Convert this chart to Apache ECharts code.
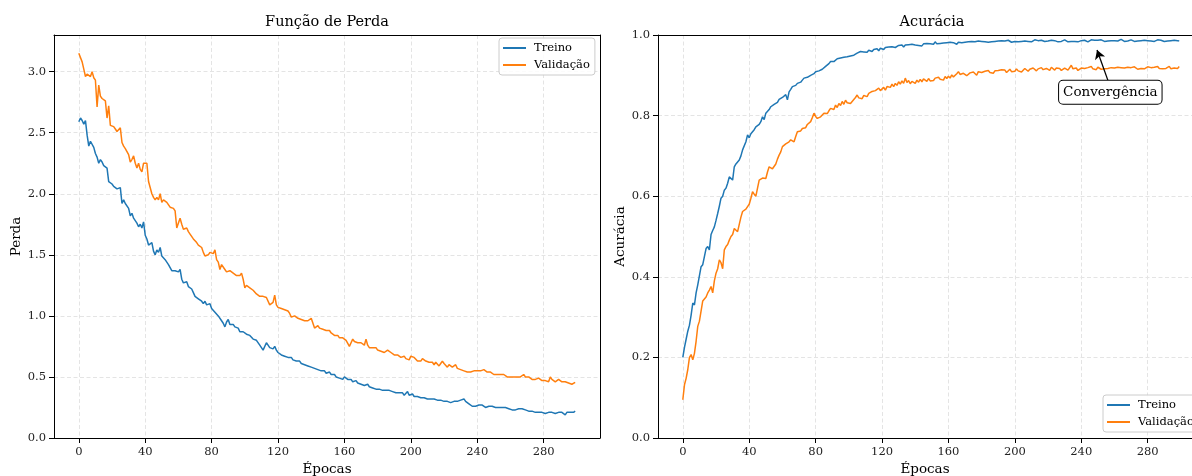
<!DOCTYPE html>
<html><head><meta charset="utf-8">
<script src="https://cdn.jsdelivr.net/npm/echarts@6/dist/echarts.min.js"></script>
<style>html,body{margin:0;padding:0;background:#fff}#c{width:1192px;height:476px}</style>
</head><body><div id="c"></div>
<script>
const lossTrain = [
2.59,2.62,2.60,2.57,2.60,2.48,2.39,2.43,2.42,2.38,
2.33,2.30,2.25,2.28,2.26,2.23,2.22,2.21,2.10,2.09,
2.08,2.06,2.07,2.04,2.03,2.05,1.92,1.95,1.92,1.93,
1.88,1.82,1.84,1.80,1.79,1.76,1.73,1.75,1.72,1.77,
1.66,1.63,1.58,1.57,1.60,1.53,1.50,1.54,1.52,1.56,
1.49,1.48,1.46,1.45,1.42,1.41,1.37,1.38,1.37,1.38,
1.36,1.38,1.30,1.27,1.26,1.28,1.24,1.25,1.22,1.19,
1.16,1.17,1.14,1.15,1.12,1.10,1.12,1.09,1.08,1.10,
1.06,1.05,1.03,1.04,1.00,0.99,0.96,0.94,0.91,0.95,
0.97,0.93,0.92,0.93,0.91,0.92,0.90,0.87,0.88,0.87,
0.86,0.85,0.86,0.84,0.83,0.81,0.82,0.80,0.79,0.76,
0.74,0.72,0.73,0.78,0.76,0.74,0.75,0.73,0.75,0.72,
0.70,0.69,0.68,0.69,0.67,0.67,0.66,0.65,0.66,0.64,
0.64,0.63,0.62,0.63,0.61,0.60,0.60,0.61,0.59,0.60,
0.58,0.59,0.57,0.57,0.56,0.56,0.55,0.54,0.55,0.53,
0.53,0.54,0.52,0.51,0.52,0.50,0.49,0.49,0.50,0.48,
0.50,0.49,0.48,0.47,0.48,0.46,0.46,0.47,0.45,0.45,
0.44,0.45,0.43,0.43,0.44,0.42,0.42,0.41,0.42,0.40,
0.41,0.40,0.40,0.39,0.40,0.39,0.38,0.39,0.39,0.38,
0.38,0.37,0.38,0.37,0.36,0.37,0.35,0.36,0.38,0.35,
0.35,0.36,0.34,0.35,0.34,0.34,0.33,0.34,0.33,0.33,
0.32,0.33,0.32,0.31,0.32,0.31,0.31,0.30,0.31,0.30,
0.30,0.31,0.30,0.30,0.29,0.30,0.30,0.31,0.30,0.30,
0.31,0.30,0.32,0.30,0.29,0.28,0.27,0.26,0.27,0.26,
0.27,0.27,0.26,0.27,0.26,0.25,0.26,0.26,0.25,0.26,
0.25,0.25,0.24,0.25,0.24,0.25,0.24,0.25,0.24,0.24,
0.23,0.23,0.24,0.23,0.23,0.24,0.23,0.24,0.24,0.23,
0.23,0.22,0.23,0.22,0.22,0.21,0.22,0.21,0.22,0.21,
0.21,0.20,0.21,0.21,0.20,0.21,0.21,0.20,0.21,0.21,
0.20,0.21,0.20,0.19,0.21,0.20,0.21,0.21,0.21,0.22];

const lossVal = [
3.15,3.14,3.08,3.02,2.96,2.98,2.99,2.96,3.00,2.95,
2.93,2.71,2.89,2.80,2.78,2.77,2.76,2.62,2.72,2.56,
2.55,2.55,2.53,2.51,2.50,2.54,2.42,2.39,2.37,2.36,
2.32,2.26,2.28,2.31,2.25,2.21,2.25,2.20,2.18,2.25,
2.25,2.25,2.10,2.09,2.00,1.97,1.95,1.97,1.95,2.00,
1.93,1.95,1.96,1.93,1.92,1.89,1.89,1.88,1.86,1.72,
1.76,1.80,1.75,1.71,1.70,1.72,1.69,1.67,1.66,1.63,
1.62,1.60,1.58,1.59,1.56,1.52,1.49,1.48,1.50,1.52,
1.53,1.51,1.54,1.46,1.44,1.38,1.42,1.41,1.38,1.36,
1.35,1.37,1.38,1.35,1.34,1.33,1.32,1.33,1.35,1.30,
1.23,1.25,1.24,1.23,1.24,1.21,1.20,1.18,1.18,1.16,
1.17,1.16,1.15,1.15,1.14,1.09,1.10,1.11,1.17,1.09,
1.07,1.08,1.06,1.07,1.05,1.05,1.04,1.02,0.99,0.98,
1.00,0.99,0.98,0.98,0.97,0.97,0.96,0.97,0.96,0.95,
0.98,0.99,0.90,0.91,0.92,0.90,0.91,0.89,0.89,0.88,
0.87,0.88,0.86,0.85,0.84,0.83,0.84,0.82,0.83,0.82,
0.81,0.80,0.79,0.75,0.78,0.81,0.79,0.78,0.78,0.77,
0.78,0.77,0.76,0.81,0.76,0.74,0.75,0.74,0.73,0.74,
0.72,0.71,0.71,0.72,0.70,0.71,0.72,0.72,0.70,0.69,
0.68,0.67,0.68,0.67,0.66,0.67,0.67,0.65,0.66,0.64,
0.67,0.66,0.66,0.65,0.63,0.64,0.63,0.65,0.64,0.63,
0.62,0.62,0.61,0.62,0.60,0.62,0.61,0.59,0.61,0.63,
0.61,0.60,0.58,0.60,0.59,0.58,0.59,0.60,0.57,0.56,
0.56,0.57,0.55,0.56,0.54,0.55,0.54,0.55,0.55,0.54,
0.55,0.54,0.55,0.54,0.56,0.55,0.54,0.53,0.54,0.53,
0.52,0.53,0.52,0.51,0.52,0.51,0.52,0.51,0.50,0.51,
0.50,0.51,0.50,0.49,0.50,0.51,0.50,0.49,0.52,0.50,
0.49,0.50,0.49,0.48,0.49,0.48,0.48,0.49,0.48,0.47,
0.48,0.47,0.47,0.46,0.50,0.48,0.47,0.46,0.47,0.48,
0.47,0.46,0.47,0.46,0.46,0.45,0.45,0.44,0.45,0.455];

const accTrain = [
0.200,0.225,0.245,0.265,0.280,0.305,0.335,0.330,0.360,0.380,
0.380,0.425,0.430,0.450,0.470,0.475,0.467,0.505,0.515,0.524,
0.540,0.557,0.575,0.595,0.600,0.615,0.620,0.632,0.648,0.650,
0.640,0.673,0.680,0.685,0.690,0.700,0.715,0.719,0.735,0.752,
0.745,0.755,0.756,0.765,0.772,0.770,0.778,0.785,0.797,0.790,
0.806,0.810,0.815,0.822,0.825,0.828,0.830,0.833,0.840,0.843,
0.845,0.848,0.852,0.839,0.859,0.865,0.872,0.868,0.875,0.880,
0.878,0.883,0.888,0.893,0.890,0.895,0.897,0.900,0.898,0.904,
0.909,0.906,0.911,0.913,0.915,0.918,0.922,0.925,0.929,0.934,
0.938,0.934,0.937,0.941,0.940,0.943,0.942,0.945,0.941,0.946,
0.944,0.948,0.946,0.950,0.952,0.955,0.951,0.959,0.956,0.958,
0.960,0.957,0.962,0.963,0.959,0.964,0.962,0.966,0.961,0.967,
0.967,0.964,0.969,0.966,0.970,0.968,0.971,0.973,0.969,0.972,
0.974,0.971,0.975,0.970,0.975,0.973,0.976,0.972,0.977,0.974,
0.975,0.978,0.974,0.977,0.973,0.978,0.976,0.979,0.975,0.978,
0.980,0.977,0.983,0.978,0.981,0.979,0.977,0.980,0.977,0.981,
0.979,0.982,0.978,0.981,0.980,0.977,0.982,0.979,0.981,0.978,
0.982,0.980,0.983,0.979,0.984,0.981,0.983,0.980,0.985,0.982,
0.984,0.981,0.983,0.985,0.982,0.984,0.983,0.980,0.984,0.982,
0.985,0.983,0.986,0.982,0.985,0.983,0.987,0.984,0.982,0.985,
0.984,0.987,0.983,0.986,0.984,0.982,0.985,0.987,0.984,0.986,
0.983,0.985,0.988,0.984,0.986,0.983,0.987,0.985,0.984,0.986,
0.985,0.983,0.987,0.984,0.986,0.985,0.983,0.986,0.984,0.985,
0.988,0.985,0.983,0.986,0.984,0.987,0.984,0.986,0.983,0.985,
0.986,0.984,0.987,0.985,0.983,0.986,0.988,0.990,0.987,0.985,
0.987,0.985,0.988,0.986,0.984,0.987,0.985,0.988,0.986,0.984,
0.986,0.988,0.985,0.987,0.989,0.986,0.984,0.987,0.985,0.986,
0.988,0.986,0.984,0.987,0.985,0.983,0.986,0.984,0.987,0.985,
0.986,0.988,0.985,0.987,0.984,0.986,0.988,0.985,0.987,0.986,
0.984,0.987,0.985,0.988,0.986,0.984,0.987,0.985,0.986,0.985];

const accVal = [
0.095,0.132,0.148,0.170,0.200,0.207,0.194,0.210,0.240,0.277,
0.290,0.290,0.340,0.342,0.350,0.360,0.367,0.376,0.360,0.390,
0.409,0.420,0.442,0.435,0.420,0.467,0.475,0.480,0.491,0.500,
0.505,0.520,0.518,0.512,0.530,0.548,0.562,0.560,0.568,0.574,
0.580,0.595,0.611,0.605,0.600,0.620,0.640,0.642,0.645,0.648,
0.644,0.660,0.673,0.671,0.668,0.669,0.680,0.692,0.702,0.710,
0.723,0.725,0.730,0.732,0.735,0.740,0.737,0.735,0.748,0.760,
0.758,0.762,0.768,0.772,0.770,0.778,0.781,0.785,0.795,0.806,
0.798,0.793,0.789,0.797,0.800,0.806,0.810,0.805,0.812,0.818,
0.822,0.815,0.826,0.820,0.830,0.825,0.835,0.828,0.838,0.832,
0.836,0.830,0.833,0.840,0.845,0.851,0.844,0.848,0.842,0.850,
0.853,0.847,0.855,0.852,0.860,0.856,0.862,0.858,0.868,0.862,
0.866,0.870,0.863,0.872,0.876,0.870,0.878,0.872,0.880,0.875,
0.884,0.878,0.886,0.880,0.893,0.882,0.887,0.879,0.885,0.881,
0.880,0.888,0.883,0.890,0.884,0.891,0.888,0.885,0.892,0.886,
0.890,0.887,0.893,0.889,0.895,0.890,0.893,0.888,0.897,0.892,
0.898,0.893,0.901,0.896,0.899,0.904,0.909,0.902,0.898,0.905,
0.903,0.899,0.900,0.906,0.902,0.908,0.904,0.900,0.909,0.905,
0.907,0.903,0.910,0.906,0.912,0.907,0.909,0.905,0.911,0.908,
0.912,0.908,0.914,0.910,0.913,0.907,0.911,0.915,0.909,0.913,
0.910,0.916,0.911,0.914,0.908,0.912,0.917,0.913,0.910,0.915,
0.912,0.918,0.914,0.911,0.916,0.913,0.919,0.914,0.912,0.917,
0.915,0.912,0.920,0.916,0.913,0.918,0.914,0.917,0.912,0.916,
0.918,0.915,0.913,0.917,0.925,0.916,0.914,0.918,0.912,0.916,
0.918,0.914,0.917,0.913,0.919,0.915,0.922,0.916,0.918,0.914,
0.920,0.917,0.915,0.919,0.916,0.920,0.917,0.915,0.919,0.921,
0.918,0.916,0.920,0.917,0.919,0.922,0.918,0.916,0.920,0.917,
0.919,0.916,0.921,0.918,0.915,0.919,0.917,0.920,0.916,0.918,
0.921,0.917,0.919,0.916,0.920,0.918,0.922,0.917,0.919,0.916,
0.920,0.917,0.919,0.922,0.916,0.919,0.918,0.921,0.917,0.922];

const epochTicks = [0, 40, 80, 120, 160, 200, 240, 280];
const lossTicks = [0, 0.5, 1.0, 1.5, 2.0, 2.5, 3.0];
const accTicks = [0, 0.2, 0.4, 0.6, 0.8, 1.0];
const seriesNames = ['Treino', 'Validação'];
const titles = ['Função de Perda', 'Acurácia'];
const yNames = ['Perda', 'Acurácia'];
const xName = 'Épocas';
const noteText = 'Convergência';
const noteArrow = [[256, 0.888], [249.5, 0.963]];
const notePos = [257.5, 0.858];

const epochs = lossTrain.map((_, i) => i);
const pairs = arr => arr.map((v, i) => [epochs[i], v]);

const FONT = "'DejaVu Serif', serif";
const C1 = '#1f77b4', C2 = '#ff7f0e';
const XMIN = -14.95, XMAX_L = 313.95, XMAX_R = 306.7;

const chart = echarts.init(document.getElementById('c'), null, {renderer: 'canvas'});

const gridStyle = {color: '#e4e4e4', width: 1, type: [4, 2.5]};

function xAx(gi, max) {
  return {
    type: 'value', gridIndex: gi, min: XMIN, max: max,
    name: xName, nameLocation: 'middle', nameGap: 23,
    nameTextStyle: {fontFamily: FONT, fontSize: 13.5, color: '#000'},
    axisLine: {show: true, onZero: false, lineStyle: {color: '#000', width: 1}},
    axisTick: {show: true, customValues: epochTicks, length: 5, lineStyle: {color: '#000'}},
    axisLabel: {customValues: epochTicks, fontFamily: FONT, fontSize: 11.5, color: '#222', margin: 8},
    splitLine: {show: true, lineStyle: gridStyle}
  };
}
function xTop(gi, max) {
  return {
    type: 'value', gridIndex: gi, min: XMIN, max: max, position: 'top', z: 10,
    axisLine: {show: true, onZero: false, lineStyle: {color: '#000', width: 1}},
    axisTick: {show: false}, axisLabel: {show: false}, splitLine: {show: false}
  };
}
function yAx(gi, max, ticks, name) {
  return {
    type: 'value', gridIndex: gi, min: 0, max: max,
    name: name, nameLocation: 'middle', nameGap: 29,
    nameTextStyle: {fontFamily: FONT, fontSize: 13.5, color: '#000'},
    axisLine: {show: true, onZero: false, lineStyle: {color: '#000', width: 1}},
    axisTick: {show: true, customValues: ticks, length: 5, lineStyle: {color: '#000'}},
    axisLabel: {customValues: ticks, fontFamily: FONT, fontSize: 11.5, color: '#222', margin: 8,
      formatter: v => Number(v).toFixed(1)},
    splitLine: {show: true, lineStyle: gridStyle}
  };
}
function yRight(gi, max) {
  return {
    type: 'value', gridIndex: gi, min: 0, max: max, position: 'right', z: 10,
    axisLine: {show: true, onZero: false, lineStyle: {color: '#000', width: 1}},
    axisTick: {show: false}, axisLabel: {show: false}, splitLine: {show: false}
  };
}
function legendAt(left, top) {
  return {
    data: seriesNames, orient: 'vertical', left: left, top: top,
    icon: 'rect', itemWidth: 23, itemHeight: 2, itemGap: 5,
    padding: [4, 5, 4, 4],
    backgroundColor: 'rgba(255,255,255,0.85)', borderColor: '#cccccc', borderWidth: 1, borderRadius: 3,
    textStyle: {fontFamily: FONT, fontSize: 11.5, color: '#000', padding: [0, 0, 0, 3]},
    selectedMode: false
  };
}
function line(name, data, gi, color, extra) {
  return Object.assign({
    type: 'line', name: name, data: pairs(data), xAxisIndex: gi, yAxisIndex: gi,
    showSymbol: false, symbol: 'none', lineStyle: {color: color, width: 1.5}, itemStyle: {color: color},
    animation: false, z: 3
  }, extra || {});
}

chart.setOption({
  animation: false,
  backgroundColor: '#fff',
  grid: [
    {left: 54, top: 35, width: 546, height: 403, show: false, containLabel: false, outerBoundsMode: 'none'},
    {left: 658, top: 35, right: 0, height: 403, show: false, containLabel: false, outerBoundsMode: 'none'}
  ],
  xAxis: [xAx(0, XMAX_L), xAx(1, XMAX_R), xTop(0, XMAX_L), xTop(1, XMAX_R)],
  yAxis: [yAx(0, 3.3, lossTicks, yNames[0]), yAx(1, 1.0, accTicks, yNames[1]), yRight(0, 3.3)],
  legend: [legendAt(499, 38), legendAt(1103, 395)],
  graphic: [
    {type: 'text', x: 327, y: 22, style: {text: titles[0], font: "14.5px 'DejaVu Serif', serif", fill: '#000', align: 'center', verticalAlign: 'middle', textAlign: 'center', textVerticalAlign: 'middle'}},
    {type: 'text', x: 932, y: 22, style: {text: titles[1], font: "14.5px 'DejaVu Serif', serif", fill: '#000', align: 'center', verticalAlign: 'middle', textAlign: 'center', textVerticalAlign: 'middle'}}
  ],
  series: [
    line(seriesNames[0], lossTrain, 0, C1),
    line(seriesNames[1], lossVal, 0, C2),
    line(seriesNames[0], accTrain, 1, C1, {
      markLine: {
        silent: true, animation: false, symbol: ['none', 'arrow'], symbolSize: [8, 9],
        lineStyle: {color: '#000', width: 1.3, type: 'solid'}, label: {show: false},
        emphasis: {disabled: true},
        data: [[{coord: noteArrow[0]}, {coord: noteArrow[1]}]]
      },
      markPoint: {
        silent: true, animation: false,
        data: [{coord: notePos, symbol: 'rect', symbolSize: 1, itemStyle: {color: 'rgba(0,0,0,0)'},
          label: {show: true, position: 'inside', formatter: noteText, fontFamily: FONT, fontSize: 13.5, color: '#000',
            backgroundColor: '#fff', borderColor: '#000', borderWidth: 1, borderRadius: 4, padding: [5, 4, 4, 4]}}]
      }
    }),
    line(seriesNames[1], accVal, 1, C2)
  ]
});
</script>
</body></html>
